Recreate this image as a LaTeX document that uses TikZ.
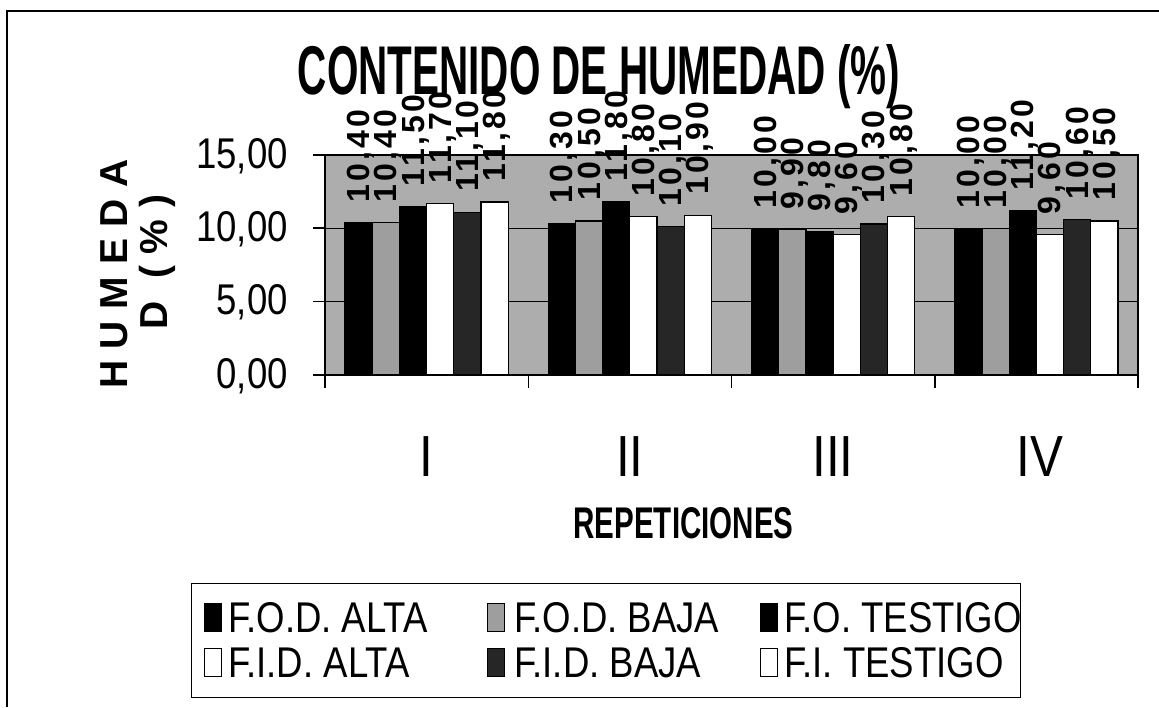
\documentclass[tikz,border=0pt]{standalone}
\usepackage{fontspec}
\usepackage{graphicx}
\setmainfont{Liberation Sans}
\newfontfamily\narrowfont[FakeStretch=0.85]{Liberation Sans}
\newfontfamily\valfont[LetterSpace=10]{Liberation Sans}
\newfontfamily\ytitfont[LetterSpace=30]{Liberation Sans}
\definecolor{stipple}{gray}{0.68}
\definecolor{stippleB}{gray}{0.62}
\definecolor{darkstip}{gray}{0.15}
\tikzset{
  frameline/.style={line width=1.6pt},
  axisline/.style={line width=1.5pt},
  gridl/.style={line width=1pt},
  bar1/.style={fill=black},
  bar2/.style={fill=stippleB},
  bar3/.style={fill=black},
  bar4/.style={fill=white},
  bar5/.style={fill=darkstip},
  bar6/.style={fill=white},
  barbox/.style={draw=black, line width=1.2pt},
  vallabel/.style={rotate=90, anchor=base west, inner sep=0pt, font={\valfont\bfseries\fontsize{32}{32}\selectfont}},
  ticklabel/.style={anchor=base east, inner sep=0pt, font={\narrowfont\fontsize{43}{43}\selectfont}},
  catlabel/.style={anchor=base, inner sep=0pt, font={\narrowfont\fontsize{58}{58}\selectfont}},
  ytitle/.style={rotate=90, anchor=base, inner sep=0pt, font={\ytitfont\bfseries\fontsize{39}{39}\selectfont}},
  legicon/.style={draw=black, line width=1pt, minimum width=17pt, minimum height=28pt, inner sep=0pt},
  legtext/.style={anchor=base west, inner sep=0pt, font={\narrowfont\fontsize{43}{43}\selectfont}},
}
\begin{document}
\begin{tikzpicture}[x=1pt,y=-1pt]
\useasboundingbox (0,0) rectangle (1159,707);
\fill[white] (0,0) rectangle (1159,707);
% outer frame (top and left visible)
\draw[frameline] (7,707) -- (7,11) -- (1159,11);
% title
\node[anchor=base, inner sep=0pt] (title) at (599,94) {\resizebox{602pt}{50pt}{\bfseries CONTENIDO DE HUMEDAD (\%)}};
% plot area
\fill[stipple] (325,155) rectangle (1138,375);
\draw[gridl] (325,228) -- (1138,228);
\draw[gridl] (325,301.7) -- (1138,301.7);
% bars
\foreach \g/\vlist in {0/{10.4,10.4,11.5,11.7,11.1,11.8},1/{10.3,10.5,11.8,10.8,10.1,10.9},2/{10.0,9.9,9.8,9.6,10.3,10.8},3/{10.0,10.0,11.2,9.6,10.6,10.5}}{
  \foreach \v [count=\i] in \vlist {
    \draw[barbox, bar\i] ({325+\g*203.25+20+(\i-1)*27.2},375) rectangle ({325+\g*203.25+20+\i*27.2},{375-\v*14.667});
  }
}
% plot border and axes
\draw[axisline] (325,155) -- (1138,155) -- (1138,375);
\draw[axisline] (325,155) -- (325,388);
\draw[axisline] (313,375) -- (1138,375);
\foreach \yy in {155,228,301.7} { \draw[axisline] (313,\yy) -- (325,\yy); }
\foreach \k in {1,2,3,4} { \draw[axisline] ({325+\k*203.25},375) -- ({325+\k*203.25},388); }
% value labels
\foreach \g/\vlist in {0/{10.4,10.4,11.5,11.7,11.1,11.8},1/{10.3,10.5,11.8,10.8,10.1,10.9},2/{10.0,9.9,9.8,9.6,10.3,10.8},3/{10.0,10.0,11.2,9.6,10.6,10.5}}{
  \foreach \v [count=\i] in \vlist {
    \node[vallabel] (v\g\i) at ({325+\g*203.25+20+(\i-0.5)*27.2+11},{375-\v*14.667-20}) {\pgfmathprintnumber[fixed,fixed zerofill,precision=2,use comma,assume math mode=true]{\v}};
  }
}
% tick labels
\node[ticklabel] (t15) at (288,168) {15,00};
\node[ticklabel] (t10) at (288,241) {10,00};
\node[ticklabel] (t5) at (288,314.7) {5,00};
\node[ticklabel] (t0) at (288,388) {0,00};
% y title
\node[ytitle] (yt1) at (127,274) {HUMEDA};
\node[ytitle] (yt2) at (167,262) {D (\%)};
% category labels
\node[catlabel] (c1) at (426.6,476) {I};
\node[catlabel] (c2) at (629.9,476) {II};
\node[catlabel] (c3) at (833.1,476) {III};
\node[catlabel] (c4) at (1040,476) {IV};
\node[anchor=base, inner sep=0pt] (xt) at (683.5,538) {\resizebox{220pt}{31pt}{\bfseries REPETICIONES}};
% legend
\draw[line width=1pt] (191,583) rectangle (1020,697);
\node[legicon, fill=black] (l1) at (213,617) {};
\node[legtext] (lt1) at (228,632) {F.O.D. ALTA};
\node[legicon, fill=stippleB] (l2) at (496,617) {};
\node[legtext] (lt2) at (514,632) {F.O.D. BAJA};
\node[legicon, fill=black] (l3) at (769,617) {};
\node[legtext] (lt3) at (784,632) {F.O. TESTIGO};
\node[legicon, fill=white] (l4) at (213,662) {};
\node[legtext] (lt4) at (228,677) {F.I.D. ALTA};
\node[legicon, fill=darkstip] (l5) at (496,662) {};
\node[legtext] (lt5) at (514,677) {F.I.D. BAJA};
\node[legicon, fill=white] (l6) at (769,662) {};
\node[legtext] (lt6) at (784,677) {F.I. TESTIGO};
\end{tikzpicture}
\end{document}
